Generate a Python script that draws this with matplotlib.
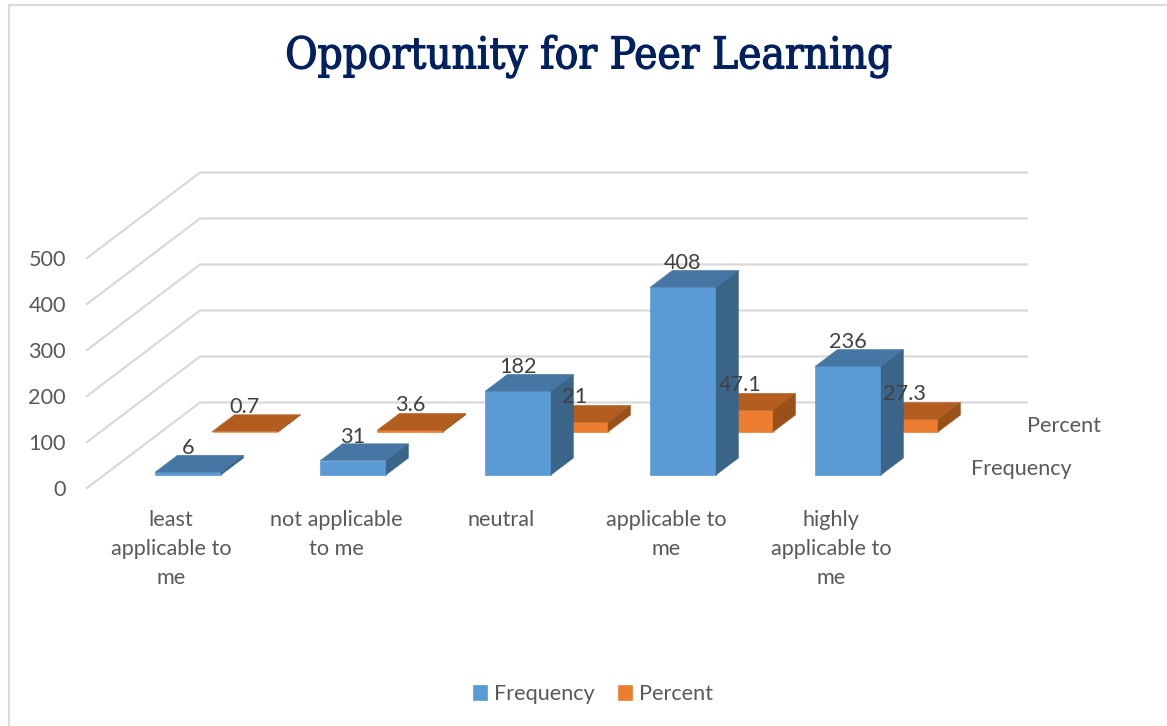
import numpy as np
import matplotlib
matplotlib.use('Agg')
import matplotlib.pyplot as plt
import matplotlib.patheffects as pe

categories = ['least\napplicable to\nme', 'not applicable\nto me', 'neutral', 'applicable to\nme', 'highly\napplicable to\nme']
frequency = [6, 31, 182, 408, 236]
percent = [0.7, 3.6, 21, 47.1, 27.3]
freq_labels = ['6', '31', '182', '408', '236']
pct_labels = ['0.7', '3.6', '21', '47.1', '27.3']
y_ticks = [0, 100, 200, 300, 400, 500]

plt.rcParams['font.family'] = ['Lato', 'DejaVu Sans']

# one category = 165 px across, one count = 0.46 px up
px_x = 165.0
px_y = 0.46
W, H = 1167, 726
x_origin = 188.0   # px of first frequency bar centre
y_origin = 475.0   # px of value 0 on frequency row
fs = 15.6

def dx(px):
    return px / px_x

def dy(px):
    return px / px_y

fig = plt.figure(figsize=(W / 100, H / 100), dpi=100)
ax = fig.add_axes([0, 0, 1, 1])
ax.set_xlim(-x_origin / px_x, (W - x_origin) / px_x)
ax.set_ylim((y_origin - H) / px_y, y_origin / px_y)
ax.axis('off')

def xp(px):
    return (px - x_origin) / px_x

def yp(px):
    return (y_origin - px) / px_y

# frame round the chart
ax.plot([xp(8.5), xp(8.5), xp(W)], [yp(H), yp(5.5), yp(5.5)], color='#dcdcdc', lw=1.6, zorder=1, solid_joinstyle='miter')

# walls and gridlines
grid_c = '#d9d9d9'
for v in y_ticks:
    ax.plot([xp(87), xp(200), xp(1027)],
            [yp(488) + v, yp(402.5) + v, yp(402.5) + v],
            color=grid_c, lw=1.6, zorder=1)
    ax.text(xp(66), yp(490.5) + v, str(v), ha='right', va='center', fontsize=fs, color='#595959')

def bars3d(xs, vals, base, front, top, side, z):
    w = dx(66)
    d_x, d_y = dx(22.5), dy(17)
    cont = ax.bar(xs, vals, width=w, bottom=base, color=front, edgecolor=front, lw=0.5, zorder=z)
    for x, v in zip(xs, vals):
        l, r = x - w / 2, x + w / 2
        t = base + v
        ax.fill([l, r, r + d_x, l + d_x], [t, t, t + d_y, t + d_y], color=top, lw=0.3, zorder=z)
        ax.fill([r, r + d_x, r + d_x, r], [base, base + d_y, t + d_y, t], color=side, lw=0.3, zorder=z)
    return cont

xs = np.arange(len(categories))
pct_shift = dx(57)
pct_base = yp(432)
b2 = bars3d(xs + pct_shift, percent, pct_base, '#ed7d31', '#b35e20', '#9a5119', 2)
b1 = bars3d(xs, frequency, 0, '#5b9bd5', '#4676a3', '#3a6488', 3)

# data labels
for x, v, s in zip(xs, frequency, freq_labels):
    ax.text(x, v + dy(17 + 7), s, ha='center', va='center', fontsize=fs, color='#404040', zorder=5)
for x, v, s in zip(xs, percent, pct_labels):
    ax.text(x + pct_shift, pct_base + v + dy(17 + 8), s, ha='center', va='center', fontsize=fs, color='#404040', zorder=5)

# category labels
for x, s in zip(xs, categories):
    ax.text(x - dx(17), yp(510), s, ha='center', va='top', fontsize=fs, color='#595959', linespacing=1.55)

# depth axis labels
ax.text(xp(1027), yp(426), 'Percent', ha='left', va='center', fontsize=fs, color='#595959')
ax.text(xp(971), yp(469), 'Frequency', ha='left', va='center', fontsize=fs, color='#595959')

ax.text(xp(589), yp(56), 'Opportunity for Peer Learning', ha='center', va='center',
        fontsize=31.5, color='#002060', family='DejaVu Serif', stretch='condensed',
        path_effects=[pe.withStroke(linewidth=0.9, foreground='#002060')])

leg = ax.legend([b1, b2], ['Frequency', 'Percent'], ncol=2, loc='center',
                bbox_to_anchor=(593 / W, 1 - 694 / H), frameon=False, fontsize=fs,
                labelcolor='#595959', handlelength=0.65, handleheight=0.65,
                handletextpad=0.35, columnspacing=1.05)

fig.savefig('out.png', dpi=100)
